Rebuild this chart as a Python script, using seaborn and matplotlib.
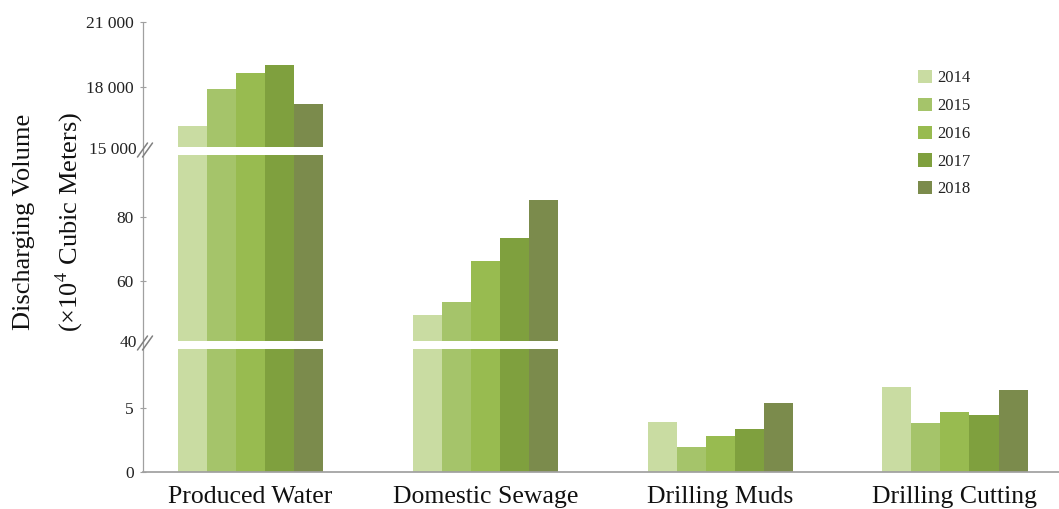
import numpy as np
import pandas as pd
import matplotlib
matplotlib.use("Agg")
import matplotlib.pyplot as plt
from matplotlib.lines import Line2D
import seaborn as sns

# --- data ---
categories = ["Produced Water", "Domestic Sewage", "Drilling Muds", "Drilling Cutting"]
years = ["2014", "2015", "2016", "2017", "2018"]
produced_water = [16170, 17890, 18650, 18990, 17200]
domestic_sewage = [49.4, 53.5, 66.3, 73.6, 85.3]
drilling_muds = [3.93, 1.93, 2.84, 3.36, 5.37]
drilling_cutting = [6.66, 3.80, 4.66, 4.45, 6.40]
colors = ["#c9dca2", "#a5c46a", "#98bb50", "#7fa03e", "#7b8b4c"]

series = [produced_water, domestic_sewage, drilling_muds, drilling_cutting]
rows = []
for cat, vals in zip(categories, series):
    for yr, v in zip(years, vals):
        rows.append({"category": cat, "year": yr, "value": v})
df = pd.DataFrame(rows)

sns.set_theme(style="white")
plt.rcParams['font.family'] = ['Liberation Serif', 'DejaVu Serif']
plt.rcParams['mathtext.fontset'] = 'stix'

W, H = 1059, 509
fig = plt.figure(figsize=(W / 100, H / 100), dpi=100)


def fy(py):
    return 1 - py / H


def fx(px):
    return px / W


x0 = 143
# broken axis: top, middle, bottom segments (pixel extents)
seg = [
    (22, 147, (15190, 21000), [18000, 21000], ["18 000", "21 000"]),
    (155, 341, (41.25, 99.4), [60, 80], ["60", "80"]),
    (349, 472, (0, 9.6), [0, 5], ["0", "5"]),
]
axes = []
for top, bot, lim, ticks, labels in seg:
    ax = fig.add_axes([fx(x0), fy(bot), 1 - fx(x0), fy(top) - fy(bot)])
    sns.barplot(data=df, x="category", y="value", hue="year", palette=colors,
                width=0.618, gap=0, saturation=1, linewidth=0, ax=ax,
                legend=(top == 22))
    ax.set_xlim(-0.458, 3.443)
    ax.set_ylim(*lim)
    ax.set_yticks(ticks)
    ax.set_yticklabels(labels)
    ax.set_xlabel("")
    ax.set_ylabel("")
    for s in ["top", "right", "left"]:
        ax.spines[s].set_visible(False)
    ax.spines["bottom"].set_visible(top == 349)
    ax.spines["bottom"].set_color("#a0a0a0")
    ax.tick_params(axis="y", which="both", left=True, direction="inout", length=5,
                   width=0.8, color="#a0a0a0", labelsize=12.5, pad=4, labelcolor="#222222")
    ax.tick_params(axis="x", bottom=False, labelsize=18.5, pad=4, labelcolor="#111111")
    if top != 349:
        ax.set_xticklabels([])
    ax.set_facecolor("none")
    axes.append(ax)

# legend
leg = axes[0].legend(loc="upper left", bbox_to_anchor=(fx(918), fy(70)),
                     bbox_transform=fig.transFigure, frameon=False,
                     handlelength=0.85, handleheight=0.85, handletextpad=0.3,
                     labelspacing=0.68, borderpad=0, borderaxespad=0,
                     prop={"size": 12})
for t in leg.get_texts():
    t.set_color("#222222")

# continuous y axis line
fig.add_artist(Line2D([fx(x0), fx(x0)], [fy(22), fy(472)], color="#a0a0a0", lw=0.9))

# break labels and marks
for py, lab in [(150, "15 000"), (343, "40")]:
    fig.text(fx(137), fy(py), lab, ha="right", va="center", fontsize=12.5, color="#222222")
    for dx in (-2.5, 2.5):
        cx, cy = 145 + dx, py
        fig.add_artist(Line2D([fx(cx - 5), fx(cx + 5)], [fy(cy + 7), fy(cy - 7)],
                              color="#808080", lw=1.1))

# y label (two lines)
fig.text(fx(24), fy(222), "Discharging Volume", rotation=90, ha="center", va="center",
         fontsize=19, color="#111111")
fig.text(fx(69), fy(222), "(×10$^{4}$ Cubic Meters)", rotation=90, ha="center",
         va="center", fontsize=19, color="#111111")

fig.savefig("out.png", dpi=100)
